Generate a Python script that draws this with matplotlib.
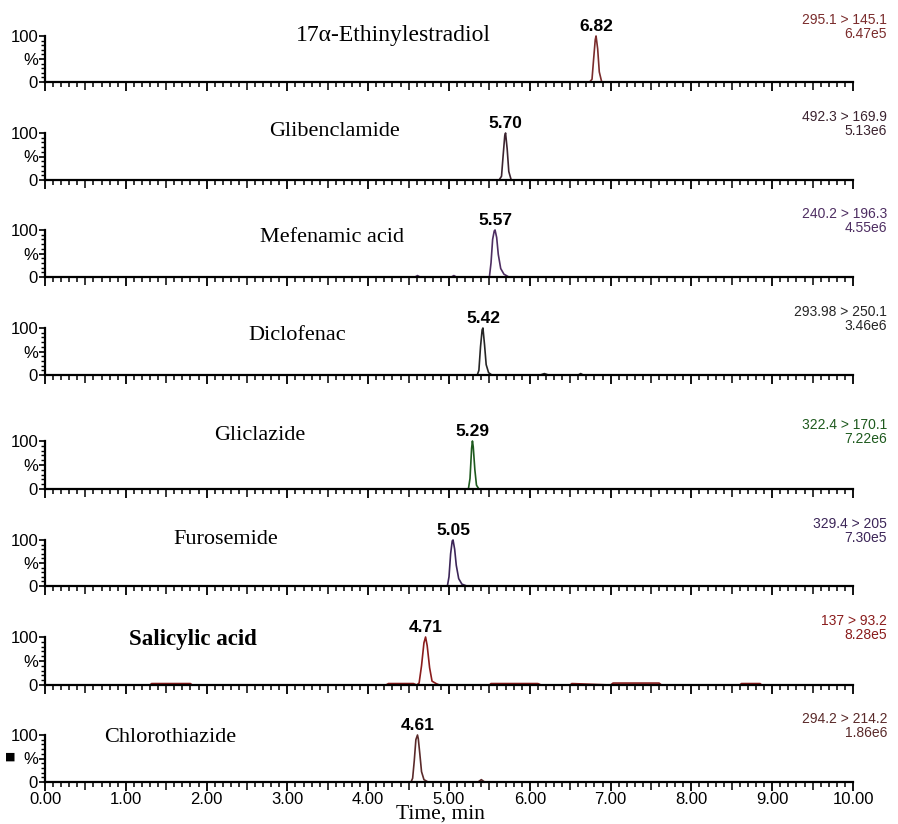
import matplotlib
matplotlib.use("Agg")
import matplotlib.pyplot as plt
from matplotlib.ticker import MultipleLocator, FixedLocator, FixedFormatter

# Compound names, retention times, MRM transitions and intensities
compounds = ["17\u03b1-Ethinylestradiol", "Glibenclamide", "Mefenamic acid", "Diclofenac",
             "Gliclazide", "Furosemide", "Salicylic acid", "Chlorothiazide"]
retention = ["6.82", "5.70", "5.57", "5.42", "5.29", "5.05", "4.71", "4.61"]
peak_rt = [6.82, 5.70, 5.57, 5.42, 5.29, 5.05, 4.71, 4.61]
transitions = ["295.1 > 145.1", "492.3 > 169.9", "240.2 > 196.3", "293.98 > 250.1",
               "322.4 > 170.1", "329.4 > 205", "137 > 93.2", "294.2 > 214.2"]
intensities = ["6.47e5", "5.13e6", "4.55e6", "3.46e6", "7.22e6", "7.30e5", "8.28e5", "1.86e6"]
colors = ["#7a2c2c", "#3c2430", "#4e2e62", "#262626", "#1e5a1e", "#3c2658", "#8a1c1c", "#5a2a2a"]
time_ticks = [0, 1, 2, 3, 4, 5, 6, 7, 8, 9, 10]
time_labels = ["0.00", "1.00", "2.00", "3.00", "4.00", "5.00",
               "6.00", "7.00", "8.00", "9.00", "10.00"]

# Chromatogram traces (time in min, relative intensity in %)
ee2_t = [1.00, 6.74, 6.77, 6.79, 6.81, 6.82, 6.84, 6.86, 6.89, 10.00]
ee2_i = [0, 0, 6, 50, 92, 100, 72, 22, 0, 0]

glib_t = [1.00, 5.62, 5.65, 5.67, 5.69, 5.70, 5.72, 5.74, 5.77, 10.00]
glib_i = [0, 0, 8, 52, 94, 100, 66, 18, 0, 0]

mef_t = [1.00, 4.58, 4.61, 4.64, 5.03, 5.06, 5.09, 5.50, 5.52, 5.54, 5.56, 5.57, 5.59,
         5.61, 5.64, 5.68, 5.74, 10.00]
mef_i = [0, 0, 3, 0, 0, 3, 0, 0, 30, 80, 98, 100, 84, 48, 18, 6, 0, 0]

diclo_t = [1.00, 5.35, 5.37, 5.39, 5.41, 5.42, 5.44, 5.46, 5.49, 5.53, 6.13, 6.18, 6.23,
           6.60, 6.63, 6.66, 10.00]
diclo_i = [0, 0, 10, 60, 96, 100, 64, 22, 5, 0, 0, 3, 0, 0, 3, 0, 0]

glic_t = [1.00, 5.24, 5.26, 5.28, 5.29, 5.30, 5.32, 5.34, 5.37, 10.00]
glic_i = [0, 0, 22, 85, 100, 88, 40, 8, 0, 0]

furo_t = [1.00, 4.98, 5.00, 5.02, 5.04, 5.05, 5.07, 5.09, 5.12, 5.16, 5.22, 10.00]
furo_i = [0, 0, 20, 70, 98, 100, 80, 45, 16, 4, 0, 0]

sal_t = [1.00, 1.30, 1.32, 1.80, 1.82, 4.22, 4.25, 4.56, 4.60, 4.63, 4.66, 4.69, 4.71,
         4.73, 4.76, 4.79, 4.84, 4.88, 5.50, 5.52, 6.10, 6.14, 6.50, 6.52, 7.00, 7.03,
         7.60, 7.63, 8.60, 8.62, 8.85, 8.87, 10.00]
sal_i = [0, 0, 3, 3, 0, 0, 3, 3, 0, 4, 40, 88, 100, 82, 36, 8, 3, 0, 0, 3, 3, 0, 0, 3,
         0, 4, 4, 0, 0, 3, 3, 0, 0]

chloro_t = [1.00, 4.53, 4.55, 4.57, 4.59, 4.61, 4.62, 4.64, 4.66, 4.69, 4.74, 5.36,
            5.40, 5.44, 10.00]
chloro_i = [0, 0, 8, 45, 90, 100, 92, 58, 22, 5, 0, 0, 5, 0, 0]

traces = [(ee2_t, ee2_i), (glib_t, glib_i), (mef_t, mef_i), (diclo_t, diclo_i),
          (glic_t, glic_i), (furo_t, furo_i), (sal_t, sal_i), (chloro_t, chloro_i)]

# Panel placement in pixels: (baseline y, 100 % y), and compound label anchor / size
W, H = 898, 824
panel_px = [(82, 36), (180, 133), (277, 230), (375, 328),
            (489, 441), (586, 540), (685, 637), (782, 735)]
name_px = [(393, 35), (334, 132), (332, 237), (297, 335),
           (260, 436), (226, 540), (193, 640), (170, 738)]
name_size = [17, 16, 16, 16, 16, 16, 16.5, 16]
x_left, x_right = 45, 853

fig = plt.figure(figsize=(W / 100, H / 100), dpi=100)
fig.patch.set_facecolor("white")

sans = ["Liberation Sans", "DejaVu Sans"]
serif = ["Liberation Serif", "DejaVu Serif"]

half_marks = [i / 10 for i in range(101) if i % 10 != 0]

for k in range(8):
    y0, y100 = panel_px[k]
    ax = fig.add_axes([x_left / W, 1 - y0 / H, (x_right - x_left) / W, (y0 - y100) / H])
    t, inten = traces[k]
    ax.plot(t, inten, color=colors[k], lw=1.2, clip_on=False, zorder=2)
    ax.set_xlim(0, 10)
    ax.set_ylim(0, 100)
    ax.patch.set_alpha(0)
    for s in ("top", "right"):
        ax.spines[s].set_visible(False)
    for s in ("left", "bottom"):
        ax.spines[s].set_linewidth(1.6)
        ax.spines[s].set_zorder(4)

    ax.xaxis.set_major_locator(FixedLocator(time_ticks))
    ax.xaxis.set_minor_locator(FixedLocator(half_marks))
    ax.tick_params(axis="x", which="major", length=6.5, width=1.3, direction="out", pad=1)
    ax.tick_params(axis="x", which="minor", length=3.5, width=1.1, direction="out")
    for tk, v in zip(ax.xaxis.get_minor_ticks(), half_marks):
        if abs(round(v * 10) % 10 - 5) == 0:
            tk.tick1line.set_markersize(6)
    if k == 7:
        ax.xaxis.set_major_formatter(FixedFormatter(time_labels))
        for lab in ax.get_xticklabels():
            lab.set_fontfamily(sans)
            lab.set_fontsize(12)
    else:
        ax.xaxis.set_major_formatter(FixedFormatter([""] * len(time_ticks)))

    ax.yaxis.set_major_locator(FixedLocator([0, 50, 100]))
    ax.yaxis.set_major_formatter(FixedFormatter(["0", "%", "100"]))
    ax.yaxis.set_minor_locator(MultipleLocator(10))
    ax.tick_params(axis="y", which="major", length=4, width=1.2, pad=1, labelsize=12)
    ax.tick_params(axis="y", which="minor", length=3, width=1.0)
    for lab in ax.get_yticklabels():
        lab.set_fontfamily(sans)

    # retention time above peak
    ax.text(peak_rt[k], 104, retention[k], ha="center", va="bottom",
            fontsize=12.5, fontweight="bold", fontfamily=sans, color="black", clip_on=False)

    # transition and intensity, right aligned
    fig.text(887 / W, 1 - (y100 - 16) / H, transitions[k], ha="right", va="center",
             fontsize=10, fontfamily=sans, color=colors[k])
    fig.text(887 / W, 1 - (y100 - 2) / H, intensities[k], ha="right", va="center",
             fontsize=10, fontfamily=sans, color=colors[k])

    nx, ny = name_px[k]
    fig.text(nx / W, 1 - ny / H, compounds[k], ha="center", va="center",
             fontsize=name_size[k], fontfamily=serif,
             fontweight="bold" if k == 6 else "normal", color="black")

fig.text(10 / W, 1 - 757 / H, "\u25a0", ha="center", va="center", fontsize=8,
         fontfamily=["DejaVu Sans"], color="black")
fig.text(440 / W, 1 - 819 / H, "Time, min", ha="center", va="baseline",
         fontsize=15.5, fontfamily=serif, color="black")

fig.savefig("out.png", dpi=100, facecolor="white")
